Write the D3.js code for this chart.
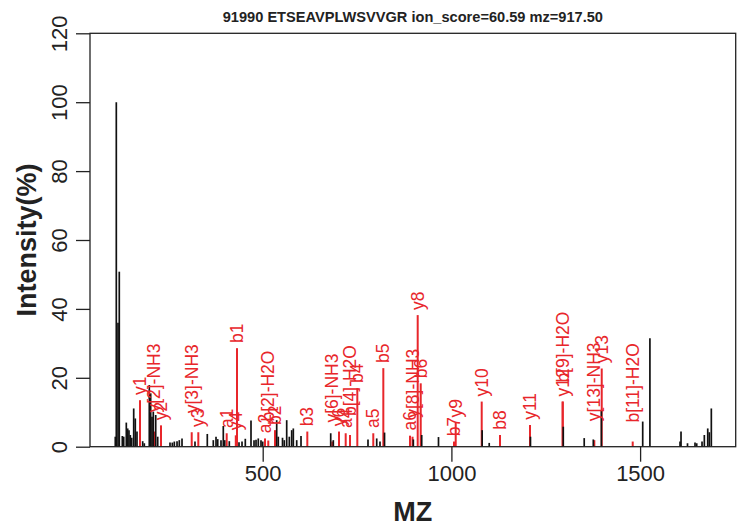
<!DOCTYPE html>
<html><head><meta charset="utf-8">
<script src="https://cdn.jsdelivr.net/npm/d3@7"></script>
<style>
body{margin:0;background:#fff;}
text{font-family:"Liberation Sans",Arial,Helvetica,sans-serif;}
</style></head>
<body><svg id="c" width="746" height="530"></svg>
<script>
// ---- data ----
const title = "91990 ETSEAVPLWSVVGR ion_score=60.59 mz=917.50";
const xTicks = [500, 1000, 1500];
const yTicks = [0, 20, 40, 60, 80, 100, 120];
const peakMz = [109.4,112.1,116.6,120.0,128.0,131.7,138.6,142.3,145.7,149.2,152.9,158.2,162.4,166.9,182.0,186.3,
  199.5,203.2,206.7,210.1,216.5,221.8,254.4,260.5,265.8,273.0,279.0,286.2,320.6,353.2,369.1,376.3,380.8,389.5,
  395.6,399.3,411.5,437.2,445.2,453.9,469.0,477.0,482.3,488.3,495.5,500.0,537.1,541.3,552.5,557.2,563.6,570.5,
  576.8,581.1,590.1,601.5,680.2,687.1,779.0,802.1,810.8,822.8,899.1,921.3,965.8,1081.5,1100.2,1209.5,1296.4,
  1351.9,1376.0,1397.4,1506.9,1526.0,1605.8,1608.4,1625.6,1645.5,1650.0,1664.1,1670.2,1679.2,1683.4,1688.7];
const peakInt = [2.9,100,36,50.8,3.1,2.9,7.0,5.3,4.8,3.4,2.6,11.1,8.2,4.4,1.6,1.0,
  17.9,15.5,8.7,10.2,9.2,2.9,1.2,1.2,1.5,1.6,1.9,2.4,1.5,3.7,1.9,2.9,2.2,1.9,
  6.0,1.9,1.6,1.3,1.5,2.3,7.6,1.9,2.0,2.4,1.9,1.5,7.7,2.9,2.6,1.9,7.7,2.9,
  4.8,5.3,1.9,3.1,3.9,1.9,2.1,2.4,1.5,4.1,2.1,3.4,2.8,4.8,1.1,2.9,5.8,
  2.5,2.1,10.6,7.3,31.5,1.5,4.4,1.0,1.2,1.0,1.5,3.4,5.3,4.2,11.1];
const ionLabels = ["y1","y[2]-NH3","y2","y[3]-NH3","y3","a1","y4","b1","a2","b[2]-H2O","b2","b3",
  "y[6]-NH3","y6","a4","b[4]-H2O","b4","a5","b5","a6","y[8]-NH3","y8","b6","b7","y9","y10","b8","y11",
  "y12","b[9]-H2O","y[13]-NH3","y13","b[11]-H2O"];
const ionMz = [174.9,212.8,230.5,311.9,329.4,404.6,428.7,431.9,506.1,514.8,532.6,618.2,
  684.4,702.2,719.9,731.3,750.7,793.0,819.6,890.3,897.0,910.7,918.7,1006.9,1011.4,1080.3,1128.8,1208.3,
  1294.9,1294.9,1378.7,1398.3,1480.4];
const ionInt = [13.5,4.4,6.2,4.2,4.2,3.9,3.3,28.6,2.4,1.8,4.8,4.4,
  1.5,4.4,3.9,3.4,17,3.9,22.8,3.2,2.9,38.2,18.4,1.5,7.0,13.1,3.4,6.3,
  13.1,13.1,1.9,22.7,1.5];

// ---- layout ----
const L = 90, R = 735.7, T = 33.3, B = 446.7;
const svg = d3.select("#c");
const x = d3.scaleLinear().domain([42.4, 1753.3]).range([L, R]);
const y = d3.scaleLinear().domain([0, 120]).range([B, T]);
const red = "#e8262b";

// red annotated peaks
svg.append("g").selectAll("line").data(ionMz).join("line")
  .attr("x1", d => x(d)).attr("x2", d => x(d))
  .attr("y1", y(0)).attr("y2", (d, i) => y(ionInt[i]))
  .attr("stroke", red).attr("stroke-width", 2);

// black peaks
svg.append("g").selectAll("line").data(peakMz).join("line")
  .attr("x1", d => x(d)).attr("x2", d => x(d))
  .attr("y1", y(0)).attr("y2", (d, i) => y(peakInt[i]))
  .attr("stroke", "#111").attr("stroke-width", 1.7);

// labels
svg.append("g").selectAll("text").data(ionLabels).join("text")
  .attr("transform", (d, i) => {
    const off = d.includes("-") ? 5.5 : 1.5;
    return `translate(${x(ionMz[i])},${y(ionInt[i] + off)}) rotate(-90)`;
  })
  .attr("dy", "0.35em")
  .attr("text-anchor", "start")
  .attr("font-size", 17.5).attr("fill", red)
  .text(d => d);

// box
svg.append("rect").attr("x", L).attr("y", T).attr("width", R - L).attr("height", B - T)
  .attr("fill", "none").attr("stroke", "#222").attr("stroke-width", 1.3);

// axes
const xAxis = svg.append("g").attr("transform", `translate(0,${B})`)
  .call(d3.axisBottom(x).tickValues(xTicks).tickSize(15).tickPadding(4).tickFormat(d3.format("d")));
xAxis.select(".domain").remove();
xAxis.selectAll("line").attr("stroke", "#222").attr("stroke-width", 1.3);
xAxis.selectAll("text").attr("font-size", 22).attr("fill", "#222");

const yAxis = svg.append("g").attr("transform", `translate(${L},0)`)
  .call(d3.axisLeft(y).tickValues(yTicks).tickSize(14).tickFormat(d3.format("d")));
yAxis.select(".domain").remove();
yAxis.selectAll("line").attr("stroke", "#222").attr("stroke-width", 1.3);
yAxis.selectAll("text").attr("font-size", 22).attr("fill", "#222")
  .attr("x", null).attr("dy", null)
  .attr("text-anchor", "middle")
  .attr("transform", "translate(-23,0) rotate(-90)");

// titles
svg.append("text").attr("x", (L + R) / 2).attr("y", 22).attr("text-anchor", "middle")
  .attr("font-size", 14.6).attr("font-weight", "bold").attr("fill", "#222").text(title);
svg.append("text").attr("x", (L + R) / 2).attr("y", 521).attr("text-anchor", "middle")
  .attr("font-size", 27).attr("font-weight", "bold").attr("fill", "#222").text("MZ");
svg.append("text").attr("transform", `translate(36,${(T + B) / 2}) rotate(-90)`).attr("text-anchor", "middle")
  .attr("font-size", 27).attr("font-weight", "bold").attr("fill", "#222").text("Intensity(%)");
</script></body></html>
